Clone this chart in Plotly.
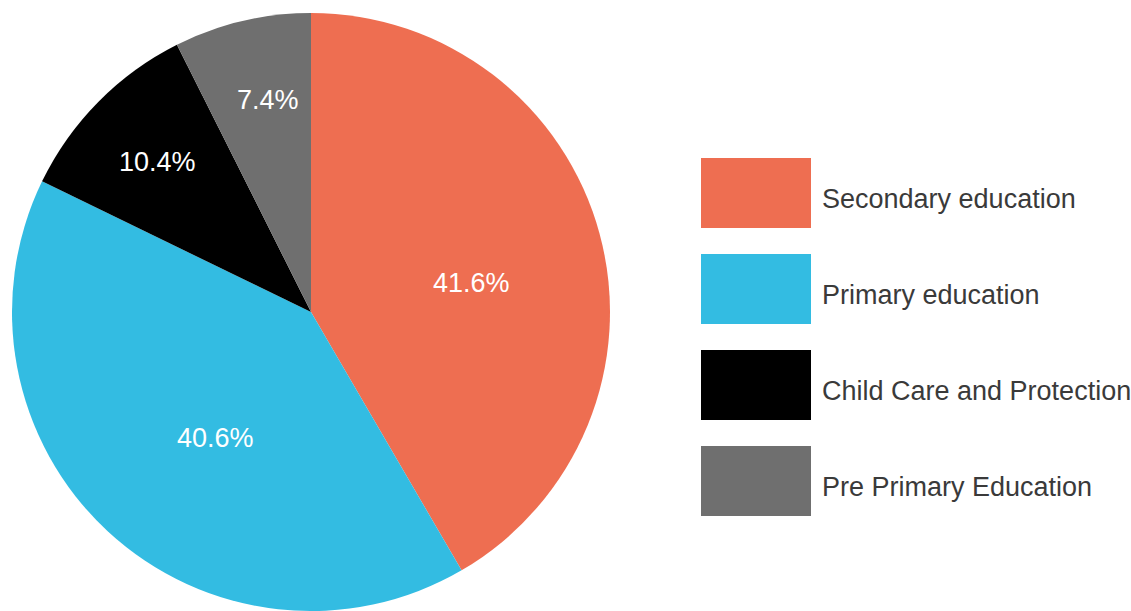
import math
import plotly.graph_objects as go

# Funding share by sector (%)
categories = ["Secondary education", "Primary education", "Child Care and Protection", "Pre Primary Education"]
shares = [41.6, 40.6, 10.4, 7.4]
colors = ["#EE6E51", "#33BCE2", "#000000", "#6F6F6F"]

W, H = 1131, 611
FONT = "Helvetica Neue, Helvetica, Liberation Sans, Arial, sans-serif"

# pie centre / radius in pixels
cx, cy, r = 311, 312, 299

fig = go.Figure(
    go.Pie(
        labels=categories,
        values=shares,
        marker=dict(colors=colors, line=dict(width=0)),
        sort=False,
        direction="clockwise",
        rotation=0,
        textinfo="none",
        showlegend=False,
        hoverinfo="label+value",
        domain=dict(x=[(cx - r) / W, (cx + r) / W], y=[0, (2 * r) / H]),
    )
)

annotations, shapes = [], []

# percentage labels placed along each slice's mid-angle
total = sum(shares)
acc = 0.0
for val in shares:
    mid = (acc + val / 2) / total * 2 * math.pi  # clockwise from 12 o'clock
    acc += val
    frac = 0.52 if val >= 20 else 0.77
    px = cx + frac * r * math.sin(mid) + 10
    py = cy - frac * r * math.cos(mid) + 12
    annotations.append(dict(
        xref="paper", yref="paper", x=px / W, y=1 - py / H,
        xanchor="center", yanchor="middle", showarrow=False,
        text=f"{val:.1f}%", font=dict(size=27, color="white", family=FONT),
    ))

# legend: large colour swatches with labels on the right
x0, x1 = 701, 811
top0, step, box_h = 158, 96, 70
for i, (name, col) in enumerate(zip(categories, colors)):
    top = top0 + i * step
    shapes.append(dict(
        type="rect", xref="paper", yref="paper",
        x0=x0 / W, x1=x1 / W, y0=1 - (top + box_h) / H, y1=1 - top / H,
        fillcolor=col, line=dict(width=0),
    ))
    annotations.append(dict(
        xref="paper", yref="paper", x=820 / W, y=1 - (top + box_h / 2 + 6) / H,
        xanchor="left", yanchor="middle", showarrow=False,
        text=name, font=dict(size=27, color="#3A3A3A", family=FONT),
    ))

fig.update_layout(
    width=W, height=H,
    margin=dict(l=0, r=0, t=0, b=0),
    paper_bgcolor="white", plot_bgcolor="white",
    shapes=shapes, annotations=annotations,
)

fig.write_html("out.html")
